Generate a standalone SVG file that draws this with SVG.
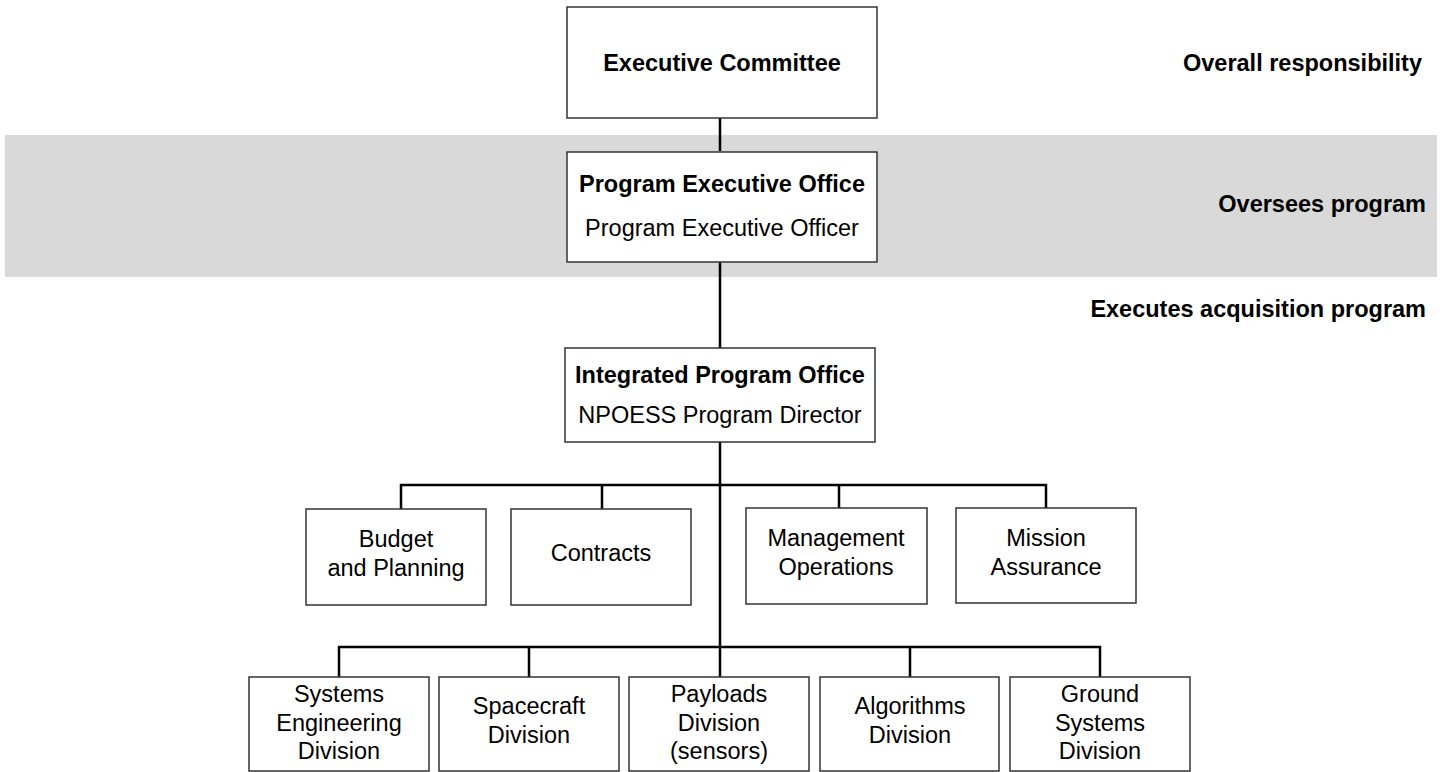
<svg xmlns="http://www.w3.org/2000/svg" width="1442" height="772" viewBox="0 0 1442 772">
<style>
.box{fill:#fff;stroke:#333;stroke-width:1.5}
.t{font-family:"Liberation Sans",Arial,sans-serif;font-size:23.5px;fill:#000;text-anchor:middle}
.b{font-weight:bold}
.r{text-anchor:end}
.c{fill:none;stroke:#000;stroke-width:2.5}
</style>
<rect x="5" y="135" width="1432" height="142" fill="#d9d9d9"/>
<g id="connectors">
<path class="c" d="M720 118V151M720 262V348M720 442V677"/>
<path class="c" d="M401 509V485H1046V508M602 485V509M839 485V508"/>
<path class="c" d="M339 677V647H1100V677M529 647V677M910 647V677"/>
</g>
<g id="label-overall"><text class="t b r" x="1422" y="71">Overall responsibility</text></g>
<g id="label-oversees"><text class="t b r" x="1426" y="212">Oversees program</text></g>
<g id="label-executes"><text class="t b r" x="1426" y="317">Executes acquisition program</text></g>
<g id="exec-committee"><rect class="box" x="567" y="7" width="310" height="111"/><text class="t b" x="722" y="71">Executive Committee</text></g>
<g id="peo"><rect class="box" x="567" y="152" width="310" height="110"/><text class="t b" x="722" y="192">Program Executive Office</text><text class="t" x="722" y="236">Program Executive Officer</text></g>
<g id="ipo"><rect class="box" x="565" y="348" width="310" height="94"/><text class="t b" x="720" y="383">Integrated Program Office</text><text class="t" x="720" y="423">NPOESS Program Director</text></g>
<g id="budget"><rect class="box" x="306" y="509" width="180" height="96"/><text class="t" x="396" y="547">Budget</text><text class="t" x="396" y="576">and Planning</text></g>
<g id="contracts"><rect class="box" x="511" y="509" width="180" height="96"/><text class="t" x="601" y="561">Contracts</text></g>
<g id="management"><rect class="box" x="746" y="508" width="181" height="96"/><text class="t" x="836" y="546">Management</text><text class="t" x="836" y="575">Operations</text></g>
<g id="mission"><rect class="box" x="956" y="508" width="180" height="95"/><text class="t" x="1046" y="546">Mission</text><text class="t" x="1046" y="575">Assurance</text></g>
<g id="systems"><rect class="box" x="249" y="677" width="180" height="94"/><text class="t" x="339" y="702">Systems</text><text class="t" x="339" y="731">Engineering</text><text class="t" x="339" y="759">Division</text></g>
<g id="spacecraft"><rect class="box" x="439" y="677" width="180" height="94"/><text class="t" x="529" y="714">Spacecraft</text><text class="t" x="529" y="743">Division</text></g>
<g id="payloads"><rect class="box" x="629" y="677" width="180" height="94"/><text class="t" x="719" y="702">Payloads</text><text class="t" x="719" y="731">Division</text><text class="t" x="719" y="759">(sensors)</text></g>
<g id="algorithms"><rect class="box" x="820" y="677" width="179" height="94"/><text class="t" x="910" y="714">Algorithms</text><text class="t" x="910" y="743">Division</text></g>
<g id="ground"><rect class="box" x="1010" y="677" width="180" height="94"/><text class="t" x="1100" y="702">Ground</text><text class="t" x="1100" y="731">Systems</text><text class="t" x="1100" y="759">Division</text></g>
</svg>
